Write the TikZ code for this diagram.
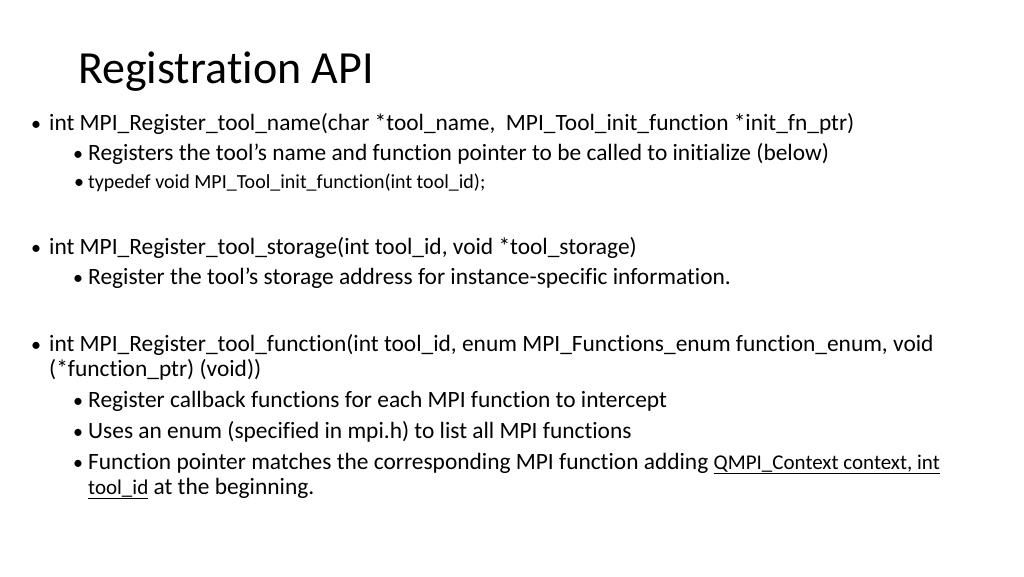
\documentclass[tikz,border=0pt]{standalone}
\usepackage{fontspec}
\setmainfont[Ligatures=NoCommon]{Carlito}
\begin{document}
\begin{tikzpicture}[x=1pt,y=-1pt,
  t/.style={anchor=base west,inner sep=0pt,font=\fontsize{23.4}{28}\selectfont},
  s/.style={anchor=base west,inner sep=0pt,font=\fontsize{20}{24}\selectfont},
  b/.style={anchor=base west,inner sep=0pt,font=\fontsize{20}{24}\selectfont}]
\useasboundingbox (0,0) rectangle (1024,576);
\node[anchor=base west,inner sep=0pt,font=\fontsize{46}{54}\selectfont] (title) at (78,83) {Registration API};
\node[b] (b1) at (31,130) {•}; \node[t] (l1) at (49,130) {int MPI\_Register\_tool\_name(char *tool\_name,\ \ MPI\_Tool\_init\_function *init\_fn\_ptr)};
\node[b] (b2) at (73,160) {•}; \node[t] (l2) at (88,160) {Registers the tool’s name and function pointer to be called to initialize (below)};
\node[s] (b3) at (74,188) {•}; \node[s] (l3) at (88,188) {typedef void MPI\_Tool\_init\_function(int tool\_id);};
\node[b] (b4) at (31,254) {•}; \node[t] (l4) at (49,254) {int MPI\_Register\_tool\_storage(int tool\_id, void *tool\_storage)};
\node[b] (b5) at (73,284) {•}; \node[t] (l5) at (88,284) {Register the tool’s storage address for instance-specific information.};
\node[b] (b6) at (31,351) {•}; \node[t] (l6) at (49,351) {int MPI\_Register\_tool\_function(int tool\_id, enum MPI\_Functions\_enum function\_enum, void};
\node[t] (l7) at (49,376) {(*function\_ptr) (void))};
\node[b] (b8) at (73,407) {•}; \node[t] (l8) at (88,407) {Register callback functions for each MPI function to intercept};
\node[b] (b9) at (73,438) {•}; \node[t] (l9) at (88,438) {Uses an enum (specified in mpi.h) to list all MPI functions};
\node[b] (b10) at (73,469) {•}; \node[t] (l10) at (88,469) {Function pointer matches the corresponding MPI function adding {\fontsize{21}{25}\selectfont\underline{QMPI\_Context context, int}}};
\node[t] (l11) at (88,494) {{\fontsize{21}{25}\selectfont\underline{tool\_id}} at the beginning.};
\end{tikzpicture}
\end{document}
